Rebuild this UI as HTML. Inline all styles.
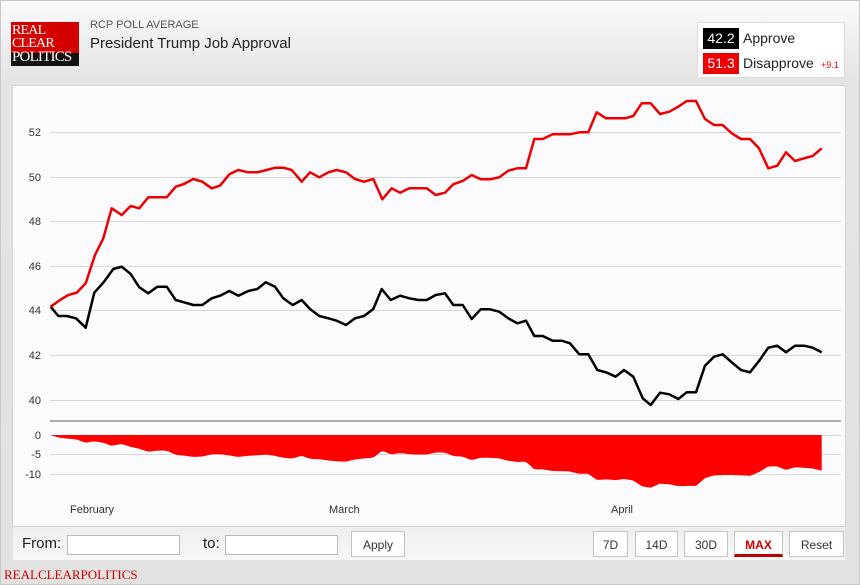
<!DOCTYPE html>
<html><head><meta charset="utf-8"><style>
body{margin:0;width:860px;height:585px;overflow:hidden;font-family:"Liberation Sans",sans-serif;}
#wrap{position:absolute;left:0;top:0;width:858px;height:583px;border:1px solid #c8c8c8;background:linear-gradient(#fafafa,#e4e4e4 80px,#e2e2e2);}
.abs{position:absolute}
.logo{left:11px;top:22px;width:68px;height:44px;background:linear-gradient(#d40000 0,#d40000 31px,#111 31px);font-family:"Liberation Serif",serif;color:#fff;font-size:14px;line-height:12.5px;padding:3px 0 0 1px;box-sizing:border-box;letter-spacing:-0.8px}
.btn{position:absolute;top:531px;height:26px;border:1px solid #c4c4c4;background:#fff;font-size:12px;line-height:26px;text-align:center;color:#333;box-sizing:border-box}
.inp{position:absolute;top:535px;height:18px;border:1px solid #bbb;background:#fff;width:111px}
</style></head><body><div id="wrap"></div>
<div class="abs logo">REAL<br>CLEAR<br><span style="font-size:15px;position:relative;top:1px">POLITICS</span></div>
<div class="abs" style="left:90px;top:19px;font-size:11px;color:#555">RCP POLL AVERAGE</div>
<div class="abs" style="left:90px;top:35px;font-size:15px;color:#222">President Trump Job Approval</div>
<div class="abs" style="left:697px;top:22px;width:148px;height:56px;background:#fff;border:1px solid #ddd;box-sizing:border-box"></div>
<div class="abs" style="left:703px;top:28px;width:36px;height:21px;background:#000;color:#fff;font-size:14px;line-height:21px;text-align:center">42.2</div>
<div class="abs" style="left:743px;top:30px;font-size:14px;color:#222">Approve</div>
<div class="abs" style="left:703px;top:53px;width:36px;height:21px;background:#e00;color:#fff;font-size:14px;line-height:21px;text-align:center">51.3</div>
<div class="abs" style="left:743px;top:55px;font-size:14px;color:#222">Disapprove</div>
<div class="abs" style="left:821px;top:60px;font-size:9px;color:#e00">+9.1</div>
<div class="abs" style="left:12px;top:85px;width:834px;height:442px;background:#fbfbfd;border:1px solid #d4d4d4;box-sizing:border-box"></div>
<svg class="abs" style="left:0;top:0" width="860" height="585" id="s">
<g stroke="#d8d8d8" stroke-width="1">
<line x1="50" x2="841" y1="132.5" y2="132.5"/><line x1="50" x2="841" y1="177.5" y2="177.5"/><line x1="50" x2="841" y1="221.5" y2="221.5"/><line x1="50" x2="841" y1="266.5" y2="266.5"/><line x1="50" x2="841" y1="310.5" y2="310.5"/><line x1="50" x2="841" y1="355.5" y2="355.5"/><line x1="50" x2="841" y1="400.5" y2="400.5"/>
<line x1="50" x2="841" y1="435.5" y2="435.5"/><line x1="50" x2="841" y1="454.5" y2="454.5"/><line x1="50" x2="841" y1="474.5" y2="474.5"/>
</g>
<line x1="50" x2="841" y1="421" y2="421" stroke="#aaa" stroke-width="2"/>
<g font-size="11" fill="#333" text-anchor="end">
<text x="41" y="136">52</text><text x="41" y="181">50</text><text x="41" y="225">48</text><text x="41" y="270">46</text><text x="41" y="314">44</text><text x="41" y="359">42</text><text x="41" y="404">40</text>
<text x="41" y="439">0</text><text x="41" y="458">-5</text><text x="41" y="478">-10</text>
</g>
<g font-size="11" fill="#333"><text x="70" y="513">February</text><text x="329" y="513">March</text><text x="611" y="513">April</text></g>
<path id="area" fill="#f00"/>
<polyline id="blk" fill="none" stroke="#000" stroke-width="2.5" stroke-linejoin="round"/>
<polyline id="red" fill="none" stroke="#e00" stroke-width="2.5" stroke-linejoin="round"/>
</svg>
<div class="abs" style="left:13px;top:527px;width:832px;height:33px;background:linear-gradient(#eee,#f8f8f8)"></div>
<div class="abs" style="left:22px;top:535px;font-size:15px;color:#222">From:</div>
<div class="inp" style="left:67px"></div>
<div class="abs" style="left:203px;top:535px;font-size:15px;color:#222">to:</div>
<div class="inp" style="left:225px"></div>
<div class="btn" style="left:351px;width:54px">Apply</div>
<div class="btn" style="left:593px;width:35px">7D</div>
<div class="btn" style="left:635px;width:43px">14D</div>
<div class="btn" style="left:684px;width:44px">30D</div>
<div class="btn" style="left:734px;width:49px;color:#c00;font-weight:bold;border-bottom:3px solid #b00">MAX</div>
<div class="btn" style="left:789px;width:55px">Reset</div>
<div class="abs" style="left:4px;top:567px;font-family:'Liberation Serif',serif;font-size:13px;color:#c00">REALCLEARPOLITICS</div>
<script>
var R=[[50.7,306.7],[60,300],[68.3,295],[76.7,292.7],[85.7,283.3],[95,255],[103.3,238.3],[111.7,208.3],[121.7,215],[130.7,206],[139.3,208.3],[148.3,197.3],[166.7,197.3],[175.7,186.7],[184,184],[193.3,179],[202.3,181.7],[211.7,188.3],[220,185.7],[229.3,174.3],[238.3,170],[248.3,172.3],[257.3,172.3],[266.7,170],[275,167.7],[283.3,167.7],[291.7,170],[301.7,181.7],[310,172.3],[319.3,177.3],[328.3,172.3],[336.7,170],[346,172.3],[355,179],[364,181.7],[373.3,179],[382.3,199.3],[391.7,188.3],[400,192.7],[409.3,188.3],[426.7,188.3],[435.7,195],[445,192.7],[453.3,184.3],[463.3,180.7],[471.7,175],[480.7,179.3],[490,179.3],[499.3,177.3],[508.3,170.7],[517.3,168.3],[526,168.3],[534.3,139],[542.7,139],[552.7,134.3],[570,134.3],[579.3,132.3],[588.3,132.3],[596.7,112.3],[606,118.3],[625,118.3],[633.3,116],[641.7,103.3],[650.7,103.3],[660,114],[669.3,111.7],[678.3,106.7],[686.7,101],[696,101],[705,119],[714,125],[722.7,125],[731.7,133.3],[741,139],[750,139],[759,148.3],[768.3,168.3],[777.3,165.7],[786,152.3],[795,161],[804,158.3],[812.7,156],[821.7,148.3]];
var B=[[50.7,306.7],[58.3,316],[66.7,316],[76,318.3],[85.7,327.7],[94.3,292.7],[103.3,282.7],[113.3,269],[121.7,266.7],[130.7,274],[139.3,287.3],[148.3,293.3],[157.3,286.7],[166.7,286.7],[175.7,300],[184,302.3],[193.3,305],[202.3,305],[211.7,298.3],[220,295.7],[229.3,291],[238.3,295.7],[248.3,291],[257.3,289],[265.7,282.3],[275,286.7],[283.3,298.3],[292.7,305],[301.7,300],[310,309],[319.3,316],[328.3,318.3],[336.7,320.7],[346,325],[355,318.3],[364,316],[373.3,309],[381.7,289],[390.7,300],[400,295.7],[409.3,298.3],[418.3,300],[426.7,300],[435.7,295],[445,293.3],[453.3,305],[462.7,305],[471.7,319],[480.7,309.3],[490,309.3],[499.3,311.7],[508.3,318.3],[517.3,323.3],[526,320.7],[534.3,336],[542.7,336],[552.7,340.7],[561.7,340.7],[570,343.3],[579.3,354.3],[588.3,354.3],[597.3,370],[606,372.3],[615.7,376.7],[624,370],[633.3,376.7],[642.7,398.3],[650.7,405],[660,392.7],[669.3,394.3],[678.3,399],[686.7,392.3],[696,392.3],[705,365.7],[714,356.7],[722.7,354.3],[731.7,362.3],[741,370],[750,372.3],[759,361],[768.3,347.7],[777.3,345.7],[786,352.3],[795,345.7],[804,345.7],[812.7,347.7],[821.7,352.3]];
function s(a){return a.map(p=>p[0]+','+p[1]).join(' ')}
document.getElementById('red').setAttribute('points',s(R));
document.getElementById('blk').setAttribute('points',s(B));
function interp(a,x){for(var i=1;i<a.length;i++){if(a[i][0]>=x){var t=(x-a[i-1][0])/(a[i][0]-a[i-1][0]);return a[i-1][1]+t*(a[i][1]-a[i-1][1]);}}return a[a.length-1][1];}
var d='M50.7,435';for(var x=50.7;x<=821.7;x+=3){d+=' L'+x+','+(435+(interp(B,x)-interp(R,x))*0.1747).toFixed(1);}
d+=' L821.7,'+(435+(352.3-148.3)*0.1747).toFixed(1)+' L821.7,435 Z';
document.getElementById('area').setAttribute('d',d);
</script>
</body></html>
